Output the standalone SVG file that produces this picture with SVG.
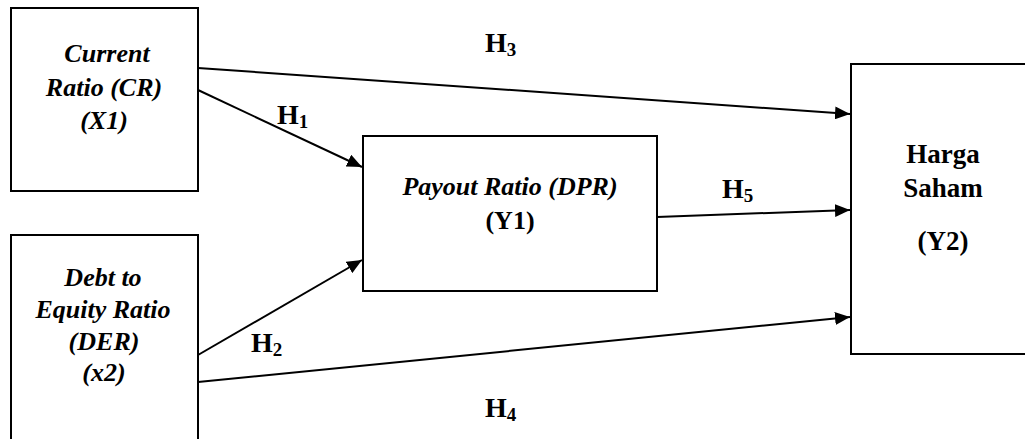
<svg xmlns="http://www.w3.org/2000/svg" width="1025" height="439" viewBox="0 0 1025 439">
<style>
.box{fill:#fff;stroke:#000;stroke-width:2}
text{font-family:"Liberation Serif","Times New Roman",serif;fill:#000}
.lbl{font-size:26px;font-weight:bold;text-anchor:middle}
.big{font-size:27px}
.it{font-style:italic}
.h{font-size:28px;font-weight:bold}
.sub{font-size:19px}
.conn{stroke:#000;stroke-width:2;fill:none;marker-end:url(#arr)}
</style>
<defs>
<marker id="arr" markerUnits="userSpaceOnUse" markerWidth="16" markerHeight="13" refX="15" refY="6.5" orient="auto">
<path d="M0,0 L15,6.5 L0,13 z" fill="#000"/>
</marker>
</defs>
<g id="node-cr">
<rect class="box" x="11" y="8" width="187" height="183"/>
<text class="lbl it" x="107" y="62">Current</text>
<text class="lbl it" x="104" y="96">Ratio (CR)</text>
<text class="lbl it" x="104" y="129">(X1)</text>
</g>
<g id="node-der">
<rect class="box" x="11" y="235" width="187" height="220"/>
<text class="lbl it" x="103" y="286">Debt to</text>
<text class="lbl it" x="103" y="318">Equity Ratio</text>
<text class="lbl it" x="104" y="350">(DER)</text>
<text class="lbl it" x="104" y="381">(x2)</text>
</g>
<g id="node-dpr">
<rect class="box" x="363" y="136" width="294" height="155"/>
<text class="lbl it" x="510" y="195">Payout Ratio (DPR)</text>
<text class="lbl" x="510" y="229">(Y1)</text>
</g>
<g id="node-harga">
<rect class="box" x="851" y="64" width="190" height="290"/>
<text class="lbl big" x="943" y="163">Harga</text>
<text class="lbl big" x="943" y="197">Saham</text>
<text class="lbl big" x="943" y="250">(Y2)</text>
</g>
<g id="connectors">
<line class="conn" x1="198" y1="68" x2="850" y2="114"/>
<line class="conn" x1="198" y1="90" x2="362" y2="167"/>
<line class="conn" x1="198" y1="355" x2="362" y2="260"/>
<line class="conn" x1="198" y1="382" x2="850" y2="317"/>
<line class="conn" x1="657" y1="217" x2="850" y2="210"/>
</g>
<g id="labels">
<text class="h" x="485" y="52">H<tspan class="sub" dy="4">3</tspan></text>
<text class="h" x="277" y="124">H<tspan class="sub" dy="4">1</tspan></text>
<text class="h" x="722" y="198">H<tspan class="sub" dy="4">5</tspan></text>
<text class="h" x="251" y="352">H<tspan class="sub" dy="4">2</tspan></text>
<text class="h" x="485" y="417">H<tspan class="sub" dy="4">4</tspan></text>
</g>
</svg>
